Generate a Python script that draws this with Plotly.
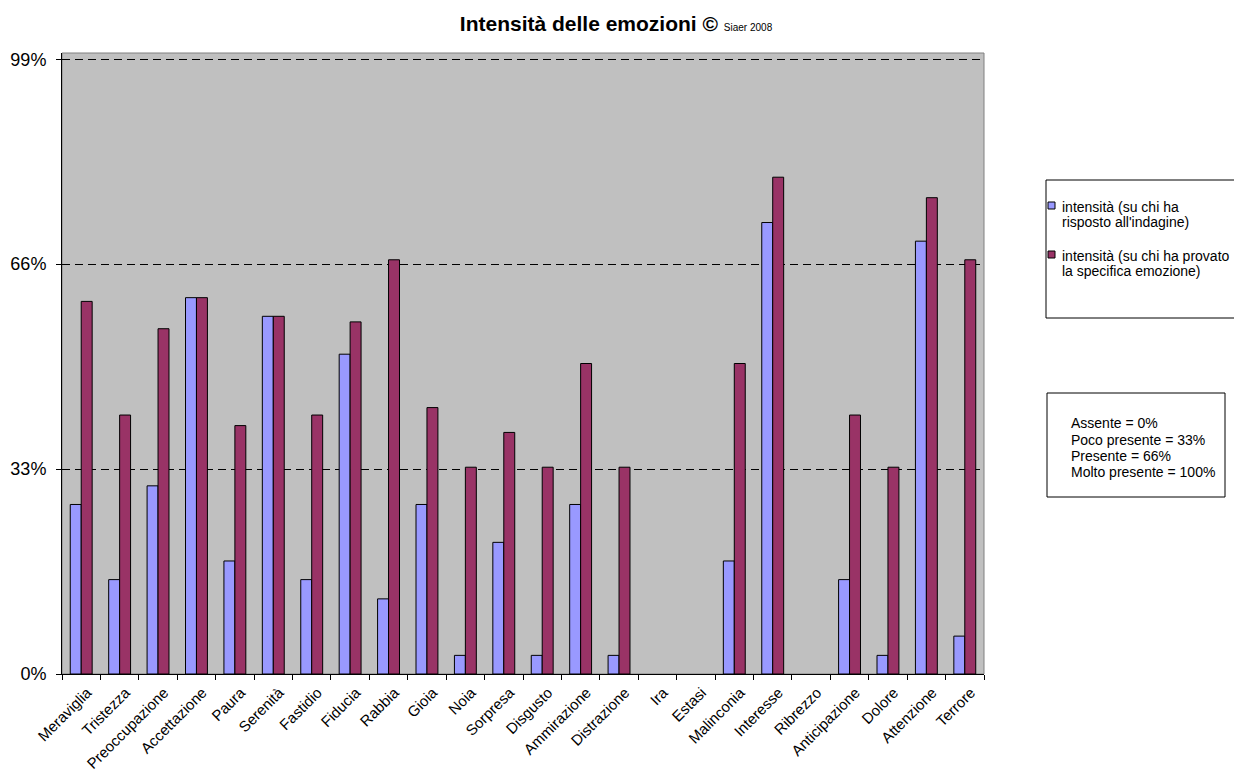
import plotly.graph_objects as go

categories = ["Meraviglia", "Tristezza", "Preoccupazione", "Accettazione", "Paura", "Serenità",
              "Fastidio", "Fiducia", "Rabbia", "Gioia", "Noia", "Sorpresa", "Disgusto",
              "Ammirazione", "Distrazione", "Ira", "Estasi", "Malinconia", "Interesse",
              "Ribrezzo", "Anticipazione", "Dolore", "Attenzione", "Terrore"]
intensita_risposto = [27.3, 15.2, 30.3, 60.6, 18.2, 57.6, 15.2, 51.5, 12.1, 27.3, 3.0, 21.2, 3.0,
                      27.3, 3.0, 0, 0, 18.2, 72.7, 0, 15.2, 3.0, 69.7, 6.1]
intensita_provato = [60.0, 41.7, 55.6, 60.6, 40.0, 57.6, 41.7, 56.7, 66.7, 42.9, 33.3, 38.9, 33.3,
                     50.0, 33.3, 0, 0, 50.0, 80.0, 0, 41.7, 33.3, 76.7, 66.7]
name_risposto = "intensità (su chi ha<br>risposto all'indagine)"
name_provato = "intensità (su chi ha provato<br>la specifica emozione)"
y_tickvals = [0, 33, 66, 99]
y_ticktext = ["0%", "33%", "66%", "99%"]
scale_notes = ["Assente = 0%", "Poco presente = 33%", "Presente = 66%", "Molto presente = 100%"]

BLUE = "#9999FF"
PLUM = "#993366"
FONT = "Arial, Liberation Sans, sans-serif"

W, H = 1234, 774
ML, MR, MT, MB = 62, 250, 53, 100
PW = W - ML - MR
PH = H - MT - MB


def px(x):
    return (x - ML) / PW


def py(y):
    return (H - MB - y) / PH


def outline_widths(values):
    # no outline for empty bars (value 0), as in the original
    return [1 if v > 0 else 0 for v in values]


fig = go.Figure()
fig.add_trace(go.Bar(x=categories, y=intensita_risposto, name=name_risposto.replace("<br>", " "),
                     marker=dict(color=BLUE, line=dict(color="black",
                                                       width=outline_widths(intensita_risposto))),
                     showlegend=False))
fig.add_trace(go.Bar(x=categories, y=intensita_provato, name=name_provato.replace("<br>", " "),
                     marker=dict(color=PLUM, line=dict(color="black",
                                                       width=outline_widths(intensita_provato))),
                     showlegend=False))

shapes = [
    # plot area border (gray)
    dict(type="rect", xref="paper", yref="paper", x0=0, x1=1, y0=0, y1=1,
         line=dict(color="#808080", width=1), layer="below"),
    # legend box
    dict(type="rect", xref="paper", yref="paper", x0=px(1046), x1=px(1240), y0=py(318), y1=py(180),
         line=dict(color="black", width=1), fillcolor="white"),
    # legend swatches
    dict(type="rect", xref="paper", yref="paper", x0=px(1048), x1=px(1055), y0=py(209), y1=py(202),
         line=dict(color="black", width=1), fillcolor=BLUE),
    dict(type="rect", xref="paper", yref="paper", x0=px(1048), x1=px(1055), y0=py(258), y1=py(251),
         line=dict(color="black", width=1), fillcolor=PLUM),
    # notes box
    dict(type="rect", xref="paper", yref="paper", x0=px(1047), x1=px(1225), y0=py(497), y1=py(393),
         line=dict(color="black", width=1), fillcolor="white"),
]

annotations = []
leg_lines = name_risposto.split("<br>") + name_provato.split("<br>")
for txt, yy in zip(leg_lines, [207, 222, 256, 271]):
    annotations.append(dict(text=txt, xref="paper", yref="paper", x=px(1060), y=py(yy),
                            xanchor="left", yanchor="middle", showarrow=False,
                            font=dict(family=FONT, size=14, color="black")))
for txt, yy in zip(scale_notes, [423, 440, 456, 472]):
    annotations.append(dict(text=txt, xref="paper", yref="paper", x=px(1069), y=py(yy),
                            xanchor="left", yanchor="middle", showarrow=False,
                            font=dict(family=FONT, size=14, color="black")))

fig.update_layout(
    width=W, height=H,
    margin=dict(l=ML, r=MR, t=MT, b=MB, autoexpand=False),
    paper_bgcolor="white",
    plot_bgcolor="#C0C0C0",
    barmode="group",
    bargap=0.43,
    bargroupgap=0,
    showlegend=False,
    font=dict(family=FONT, color="black"),
    title=dict(
        text="<b>Intensità delle emozioni ©</b> <span style='font-size:10px'>Siaer 2008</span>",
        x=616 / W, xref="container", xanchor="center",
        y=1 - 24 / H, yref="container", yanchor="middle",
        font=dict(family=FONT, size=21, color="black"),
    ),
    xaxis=dict(
        type="category",
        tickson="boundaries",
        ticks="outside", ticklen=5, tickcolor="black", tickwidth=1,
        tickangle=-45,
        ticklabelshift=6,
        ticklabelstandoff=3,
        tickfont=dict(family=FONT, size=15, color="black"),
        showline=True, linecolor="black", linewidth=1,
        showgrid=False, zeroline=False,
    ),
    yaxis=dict(
        range=[0, 100],
        tickvals=y_tickvals, ticktext=y_ticktext,
        ticks="outside", ticklen=5, tickcolor="black", tickwidth=1,
        ticklabelstandoff=6,
        tickfont=dict(family=FONT, size=18, color="black"),
        showline=True, linecolor="black", linewidth=1,
        showgrid=True, gridcolor="black", gridwidth=1, griddash="8px,5px",
        zeroline=False,
    ),
    shapes=shapes,
    annotations=annotations,
)

fig.write_html("out.html")
